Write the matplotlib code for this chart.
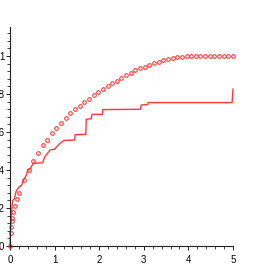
import matplotlib
matplotlib.use("Agg")
import matplotlib.pyplot as plt
from matplotlib.ticker import MultipleLocator, FixedLocator

# smooth curve, drawn as points
curve_x = [0.0, 0.013, 0.026, 0.039, 0.052, 0.078, 0.104, 0.156, 0.208, 0.3125,
           0.417, 0.521, 0.625, 0.729, 0.833, 0.9375, 1.042, 1.146, 1.25, 1.354,
           1.458, 1.5625, 1.667, 1.771, 1.875, 1.979, 2.083, 2.1875, 2.292, 2.396,
           2.5, 2.604, 2.708, 2.8125, 2.917, 3.021, 3.125, 3.229, 3.333, 3.4375,
           3.542, 3.646, 3.75, 3.854, 3.958, 4.063, 4.167, 4.271, 4.375, 4.479,
           4.583, 4.688, 4.792, 4.896, 5.0]
curve_y = [0.0, 0.07, 0.10, 0.13, 0.15, 0.18, 0.21, 0.25, 0.28, 0.35,
           0.40, 0.45, 0.49, 0.53, 0.56, 0.593, 0.623, 0.646, 0.672, 0.698,
           0.72, 0.737, 0.758, 0.774, 0.796, 0.812, 0.828, 0.84, 0.856, 0.87,
           0.886, 0.898, 0.912, 0.924, 0.935, 0.945, 0.953, 0.961, 0.97, 0.977,
           0.982, 0.988, 0.993, 0.996, 1.0, 1.0, 1.0, 1.0, 1.0, 1.0,
           1.0, 1.0, 1.0, 1.0, 1.0]

# empirical staircase line
step_x = [0.0, 0.01, 0.03, 0.04, 0.06, 0.10, 0.14, 0.20, 0.26, 0.31, 0.36, 0.40,
          0.45, 0.52, 0.73, 0.78, 0.90, 1.00, 1.12, 1.21, 1.45, 1.46, 1.70, 1.71,
          1.82, 1.84, 2.07, 2.08, 2.93, 2.94, 3.09, 3.10, 4.98, 5.0]
step_y = [0.0, 0.08, 0.15, 0.19, 0.24, 0.25, 0.29, 0.31, 0.32, 0.35, 0.37, 0.40,
          0.405, 0.435, 0.438, 0.47, 0.505, 0.51, 0.54, 0.556, 0.558, 0.586, 0.588, 0.667,
          0.67, 0.693, 0.693, 0.718, 0.72, 0.742, 0.745, 0.755, 0.755, 0.826]

ytick_vals = [0, 0.2, 0.4, 0.6, 0.8, 1.0]
ytick_text = ["0", ".2", ".4", ".6", ".8", "1"]
xtick_vals = [0, 1, 2, 3, 4, 5]

plt.rcParams["font.family"] = ["Liberation Sans", "DejaVu Sans"]

fig = plt.figure(figsize=(2.61, 2.78), dpi=100)
ax = fig.add_axes([0.0383, 0.1151, 0.8544, 0.7878])

ax.plot(step_x, step_y, color="#ff3838", lw=1.0, clip_on=False)
ax.plot(curve_x, curve_y, ls="none", marker="o", ms=2.6, mfc="none",
        mec="#ff3030", mew=0.75, clip_on=False)

ax.set_xlim(0, 5)
ax.set_ylim(0, 1.153)

for s in ["top", "right"]:
    ax.spines[s].set_visible(False)
for s in ["left", "bottom"]:
    ax.spines[s].set_linewidth(0.8)
    ax.spines[s].set_color("#222222")

ax.xaxis.set_major_locator(FixedLocator(xtick_vals))
ax.xaxis.set_minor_locator(MultipleLocator(0.2))
ax.yaxis.set_major_locator(FixedLocator(ytick_vals))
ax.set_yticklabels(ytick_text)
ax.yaxis.set_minor_locator(MultipleLocator(0.04))

ax.tick_params(which="major", length=3, width=0.7, color="#222222",
               labelsize=7, pad=1.0)
ax.tick_params(which="minor", length=2.2, width=0.6, color="#222222")
ax.tick_params(axis="x", which="major", pad=3.5)

fig.savefig("out.png", dpi=100)
